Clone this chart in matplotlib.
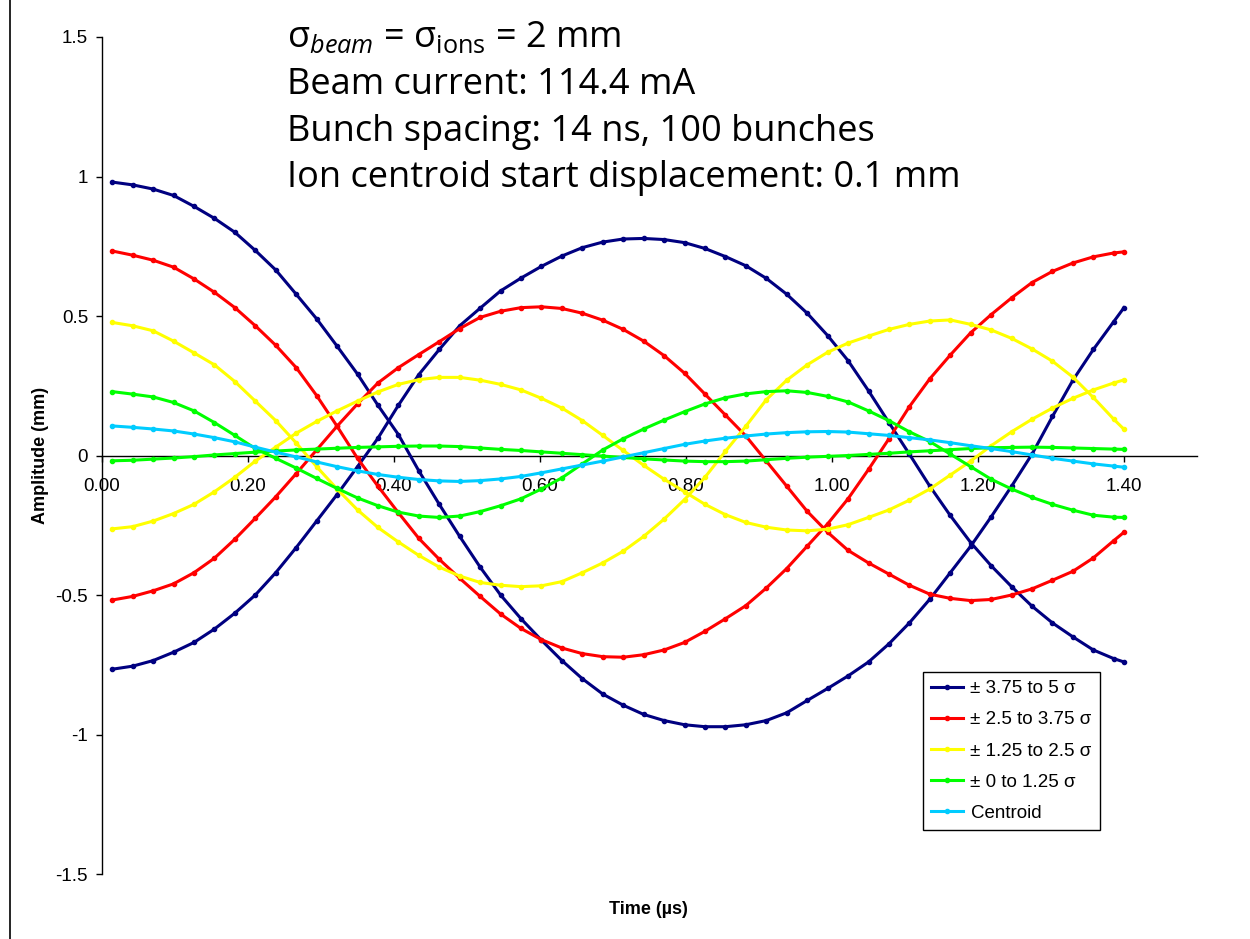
import matplotlib
matplotlib.use('Agg')
import matplotlib.pyplot as plt
from matplotlib.lines import Line2D

plt.rcParams['font.family'] = ['Liberation Sans', 'DejaVu Sans']
plt.rcParams['mathtext.fontset'] = 'custom'
plt.rcParams['mathtext.rm'] = 'Open Sans'
plt.rcParams['mathtext.it'] = 'Open Sans:italic'

# Time of each bunch (us), every second bunch plus the last one
time_us = [0.014, 0.042, 0.070, 0.098, 0.126, 0.154, 0.182, 0.210, 0.238, 0.266,
           0.294, 0.322, 0.350, 0.378, 0.406, 0.434, 0.462, 0.490, 0.518, 0.546,
           0.574, 0.602, 0.630, 0.658, 0.686, 0.714, 0.742, 0.770, 0.798, 0.826,
           0.854, 0.882, 0.910, 0.938, 0.966, 0.994, 1.022, 1.050, 1.078, 1.106,
           1.134, 1.162, 1.190, 1.218, 1.246, 1.274, 1.302, 1.330, 1.358, 1.386,
           1.400]

# Amplitudes (mm), + and - side of each ion slice
blue_pos = [0.980, 0.970, 0.955, 0.932, 0.893, 0.850, 0.800, 0.735, 0.665, 0.578,
            0.490, 0.392, 0.292, 0.180, 0.075, -0.055, -0.175, -0.290, -0.400, -0.500,
            -0.585, -0.662, -0.735, -0.800, -0.855, -0.895, -0.928, -0.950, -0.965, -0.972,
            -0.972, -0.965, -0.950, -0.922, -0.878, -0.835, -0.790, -0.740, -0.675, -0.600,
            -0.515, -0.420, -0.325, -0.220, -0.110, 0.005, 0.140, 0.270, 0.380, 0.480,
            0.530]
blue_neg = [-0.766, -0.755, -0.735, -0.705, -0.670, -0.622, -0.565, -0.500, -0.420, -0.330,
            -0.235, -0.140, -0.040, 0.062, 0.180, 0.290, 0.380, 0.465, 0.528, 0.590,
            0.636, 0.678, 0.715, 0.745, 0.765, 0.776, 0.778, 0.774, 0.763, 0.742,
            0.713, 0.680, 0.635, 0.578, 0.510, 0.430, 0.340, 0.232, 0.118, 0.005,
            -0.110, -0.215, -0.312, -0.395, -0.470, -0.540, -0.600, -0.650, -0.697, -0.728,
            -0.740]
red_pos = [0.733, 0.718, 0.700, 0.675, 0.633, 0.585, 0.530, 0.465, 0.395, 0.315,
           0.215, 0.105, -0.010, -0.110, -0.205, -0.297, -0.372, -0.440, -0.505, -0.568,
           -0.620, -0.660, -0.690, -0.710, -0.721, -0.723, -0.714, -0.697, -0.670, -0.630,
           -0.585, -0.538, -0.475, -0.405, -0.325, -0.245, -0.155, -0.050, 0.060, 0.175,
           0.275, 0.360, 0.440, 0.505, 0.565, 0.620, 0.660, 0.690, 0.712, 0.726,
           0.730]
red_neg = [-0.518, -0.505, -0.485, -0.460, -0.420, -0.368, -0.300, -0.225, -0.148, -0.065,
           0.020, 0.105, 0.185, 0.260, 0.315, 0.362, 0.408, 0.455, 0.495, 0.517,
           0.530, 0.533, 0.527, 0.510, 0.485, 0.452, 0.410, 0.358, 0.295, 0.220,
           0.145, 0.070, -0.020, -0.110, -0.200, -0.275, -0.340, -0.385, -0.425, -0.465,
           -0.497, -0.512, -0.520, -0.516, -0.500, -0.478, -0.447, -0.415, -0.367, -0.305,
           -0.275]
yellow_pos = [0.477, 0.465, 0.447, 0.410, 0.368, 0.325, 0.265, 0.195, 0.125, 0.045,
              -0.040, -0.120, -0.195, -0.258, -0.310, -0.358, -0.400, -0.432, -0.455, -0.465,
              -0.470, -0.467, -0.452, -0.420, -0.385, -0.343, -0.290, -0.228, -0.158, -0.078,
              0.015, 0.105, 0.200, 0.270, 0.325, 0.370, 0.403, 0.428, 0.452, 0.470,
              0.482, 0.486, 0.470, 0.450, 0.420, 0.382, 0.338, 0.281, 0.208, 0.130,
              0.094]
yellow_neg = [-0.263, -0.255, -0.235, -0.208, -0.175, -0.130, -0.078, -0.020, 0.030, 0.080,
              0.122, 0.160, 0.195, 0.228, 0.255, 0.272, 0.280, 0.280, 0.270, 0.255,
              0.235, 0.205, 0.170, 0.125, 0.072, 0.018, -0.035, -0.085, -0.130, -0.175,
              -0.212, -0.240, -0.257, -0.267, -0.270, -0.264, -0.248, -0.222, -0.195, -0.160,
              -0.120, -0.070, -0.020, 0.035, 0.085, 0.130, 0.170, 0.205, 0.235, 0.260,
              0.271]
green_pos = [0.229, 0.220, 0.210, 0.190, 0.160, 0.118, 0.072, 0.025, -0.010, -0.045,
             -0.082, -0.118, -0.152, -0.180, -0.203, -0.217, -0.222, -0.217, -0.201, -0.180,
             -0.155, -0.120, -0.080, -0.030, 0.020, 0.060, 0.095, 0.127, 0.157, 0.185,
             0.207, 0.221, 0.229, 0.232, 0.226, 0.212, 0.192, 0.160, 0.125, 0.085,
             0.050, 0.005, -0.040, -0.085, -0.120, -0.150, -0.175, -0.196, -0.214, -0.221,
             -0.222]
green_neg = [-0.019, -0.017, -0.013, -0.009, -0.004, 0.002, 0.007, 0.012, 0.016, 0.020,
             0.023, 0.026, 0.029, 0.031, 0.033, 0.034, 0.034, 0.032, 0.027, 0.022,
             0.018, 0.013, 0.008, 0.003, -0.002, -0.007, -0.012, -0.016, -0.020, -0.022,
             -0.022, -0.020, -0.015, -0.010, -0.006, -0.003, 0.000, 0.004, 0.008, 0.013,
             0.017, 0.021, 0.025, 0.028, 0.029, 0.030, 0.029, 0.027, 0.025, 0.023,
             0.022]
centroid = [0.106, 0.101, 0.095, 0.088, 0.077, 0.064, 0.049, 0.030, 0.012, -0.005,
            -0.023, -0.040, -0.055, -0.068, -0.078, -0.086, -0.091, -0.093, -0.090, -0.084,
            -0.075, -0.062, -0.048, -0.034, -0.020, -0.005, 0.010, 0.025, 0.040, 0.052,
            0.062, 0.070, 0.077, 0.082, 0.085, 0.086, 0.084, 0.078, 0.072, 0.064,
            0.056, 0.046, 0.035, 0.025, 0.014, 0.002, -0.010, -0.020, -0.030, -0.038,
            -0.042]

labels = ['± 3.75 to 5 σ', '± 2.5 to 3.75 σ', '± 1.25 to 2.5 σ', '± 0 to 1.25 σ', 'Centroid']
colors = ['#000080', '#FF0000', '#FFFF00', '#00FF00', '#00CCFF']
pairs = [(blue_pos, blue_neg), (red_pos, red_neg), (yellow_pos, yellow_neg),
         (green_pos, green_neg), (centroid, None)]

fig = plt.figure(figsize=(12.5, 9.39), dpi=100)
ax = fig.add_axes([0.0816, 0.0692, 0.876, 0.8914])

for (pos, neg), col, lab in zip(pairs, colors, labels):
    ax.plot(time_us, pos, color=col, lw=2.2, marker='o', ms=3, label=lab)
    if neg is not None:
        ax.plot(time_us, neg, color=col, lw=2.2, marker='o', ms=3)

ax.set_xlim(0, 1.5)
ax.set_ylim(-1.5, 1.5)
ax.set_xticks([0, 0.2, 0.4, 0.6, 0.8, 1.0, 1.2, 1.4])
ax.set_xticklabels(['0.00', '0.20', '0.40', '0.60', '0.80', '1.00', '1.20', '1.40'])
ax.set_yticks([-1.5, -1, -0.5, 0, 0.5, 1, 1.5])
ax.set_yticklabels(['-1.5', '-1', '-0.5', '0', '0.5', '1', '1.5'])

ax.spines['top'].set_visible(False)
ax.spines['right'].set_visible(False)
ax.spines['bottom'].set_position(('data', 0))
ax.spines['bottom'].set_zorder(0.5)
for s in ['left', 'bottom']:
    ax.spines[s].set_linewidth(1.0)
ax.tick_params(axis='y', direction='out', length=4.5, width=1, pad=5.5, labelsize=13.5)
ax.tick_params(axis='x', direction='out', length=4.5, width=1, pad=12, labelsize=13.5)

fig.text(0.0325, 0.515, 'Amplitude (mm)', rotation=90, ha='center', va='center',
         fontsize=13, fontweight='bold')
fig.text(0.519, 0.031, 'Time (µs)', ha='center', va='center',
         fontsize=13, fontweight='bold')

# annotation block at the top
title_lines = [r'σ$_{\it beam}$ = σ$_{\rm ions}$ = 2 mm',
               'Beam current: 114.4 mA',
               'Bunch spacing: 14 ns, 100 bunches',
               'Ion centroid start displacement: 0.1 mm']
title_y = [47, 94, 141, 187]
for line, yp in zip(title_lines, title_y):
    fig.text(287 / 1250, 1 - yp / 939, line, ha='left', va='baseline',
             fontsize=26, family='Open Sans')

leg = ax.legend(loc='upper left', bbox_to_anchor=(0.75, 0.241), borderaxespad=0,
                fontsize=13.5, handlelength=1.7, handletextpad=0.4,
                labelspacing=0.75, borderpad=0.42, numpoints=1,
                fancybox=False, framealpha=1, edgecolor='black')
leg.get_frame().set_linewidth(1.0)

# chart area border on the left
fig.add_artist(Line2D([10 / 1250, 10 / 1250], [0, 1], color='black', lw=1.2))

fig.savefig('out.png', dpi=100)
